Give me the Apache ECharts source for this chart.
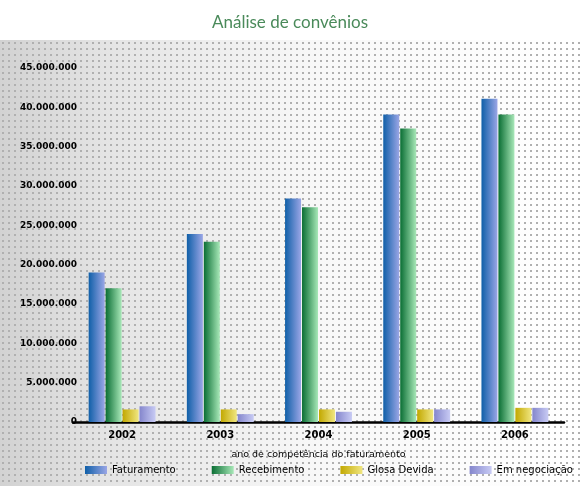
<!DOCTYPE html>
<html>
<head>
<meta charset="utf-8">
<script src="https://cdn.jsdelivr.net/npm/echarts@6/dist/echarts.min.js"></script>
<style>
  html, body { margin: 0; padding: 0; background: #fff; }
  #wrap { position: relative; width: 580px; height: 486px; }
  #bg {
    position: absolute; left: 0; top: 40px; width: 580px; height: 446px;
    background:
      radial-gradient(circle, #b0b0b0 1.1px, transparent 1.4px) 0 0 / 6px 6px,
      linear-gradient(to right, #d2d2d2 0%, #e4e4e4 18%, #f8f8f8 55%, #ffffff 100%);
  }
  #chart { position: absolute; left: 0; top: 0; width: 580px; height: 486px; }
</style>
</head>
<body>
<div id="wrap">
  <div id="bg"></div>
  <div id="chart"></div>
</div>
<script>
  // dados do gráfico
  const years = ['2002', '2003', '2004', '2005', '2006'];
  const seriesNames = ['Faturamento', 'Recebimento', 'Glosa Devida', 'Em negociação'];
  const faturamento = [19000000, 23900000, 28400000, 39100000, 41100000];
  const recebimento = [17000000, 22900000, 27300000, 37300000, 39100000];
  const glosaDevida = [1600000, 1600000, 1600000, 1600000, 1800000];
  const emNegociacao = [2000000, 1000000, 1300000, 1600000, 1800000];

  const colors = [
    ['#0f5fa8', '#9aa6e6'],
    ['#0a6e34', '#a8e8b8'],
    ['#c2a800', '#f0e680'],
    ['#8486cc', '#c8cbf4']
  ];

  const grad = (c) => new echarts.graphic.LinearGradient(0, 0, 1, 0, [
    { offset: 0, color: c[0] },
    { offset: 1, color: c[1] }
  ]);

  const fmt = (v) => String(v).replace(/\B(?=(\d{3})+(?!\d))/g, '.');

  const chart = echarts.init(document.getElementById('chart'));
  const values = [faturamento, recebimento, glosaDevida, emNegociacao];

  chart.setOption({
    backgroundColor: 'transparent',
    animation: false,
    title: {
      text: 'Análise de convênios',
      left: 'center',
      top: 9,
      textStyle: { color: '#4a8a5a', fontSize: 17, fontWeight: 'normal', fontFamily: 'Lato' }
    },
    legend: {
      data: seriesNames,
      orient: 'horizontal',
      bottom: 6,
      left: 80,
      width: 500,
      itemWidth: 22,
      itemHeight: 8,
      itemGap: 36,
      icon: 'rect',
      textStyle: { color: '#000', fontSize: 10, fontFamily: 'DejaVu Sans' }
    },
    grid: { left: 73, right: 16, top: 68, bottom: 64 },
    xAxis: {
      type: 'category',
      data: years,
      name: 'ano de competência do faturamento',
      nameLocation: 'middle',
      nameGap: 28,
      nameTextStyle: { color: '#000', fontSize: 9.5, fontFamily: 'DejaVu Sans' },
      axisLine: { lineStyle: { color: '#000', width: 2.5 } },
      axisTick: { show: false },
      axisLabel: { color: '#000', fontWeight: 'bold', fontSize: 10, fontFamily: 'DejaVu Sans', margin: 8 }
    },
    yAxis: {
      type: 'value',
      min: 0,
      max: 45000000,
      interval: 5000000,
      axisLine: { show: false },
      axisTick: { show: false },
      splitLine: { show: false },
      axisLabel: {
        color: '#000', fontWeight: 'bold', fontSize: 9, fontFamily: 'DejaVu Sans', margin: -4,
        formatter: fmt
      }
    },
    series: seriesNames.map((name, i) => ({
      name,
      type: 'bar',
      data: values[i],
      barWidth: 16,
      barGap: '6%',
      itemStyle: { color: grad(colors[i]) }
    }))
  });
</script>
</body>
</html>
